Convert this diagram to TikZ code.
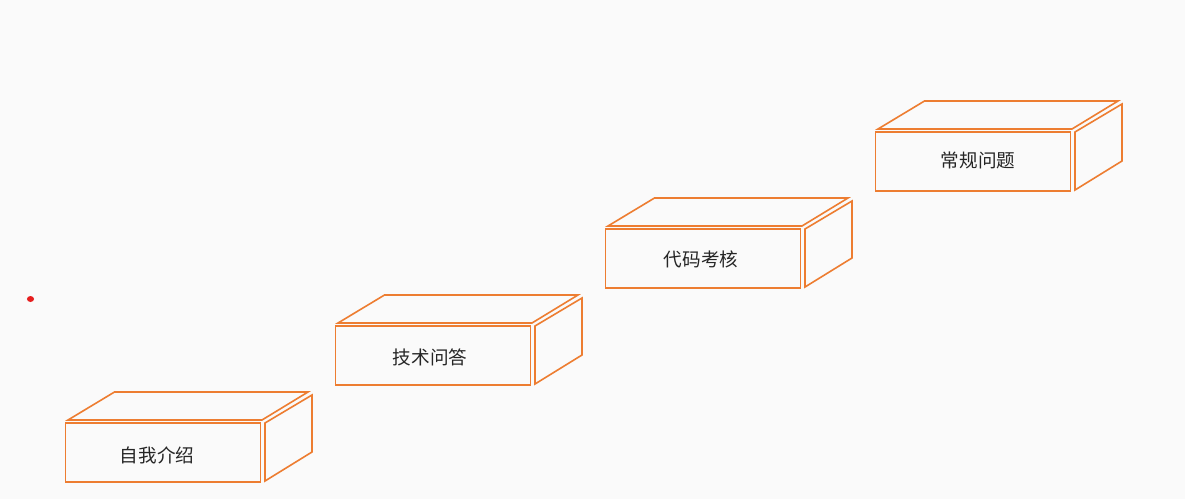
\documentclass[tikz,border=0pt]{standalone}
\usepackage{fontspec}
\newfontfamily\cjk{Noto Sans CJK SC}
\definecolor{boxorange}{RGB}{237,125,49}
\definecolor{bg}{RGB}{250,250,250}
\definecolor{dotred}{RGB}{230,30,30}
\tikzset{
  face/.style={draw=boxorange, line width=0.8pt, line join=miter},
  front/.style={face, rectangle, minimum width=97.5pt, minimum height=29.5pt, inner sep=0pt},
  lbl/.style={inner sep=0pt, font=\cjk\fontsize{9.3}{10}\selectfont, text=black!85}
}
\begin{document}
\begin{tikzpicture}[x=0.5pt,y=-0.5pt]
\useasboundingbox (0,0) rectangle (1185,499);
\fill[bg] (0,0) rectangle (1185,499);
\fill[dotred] (30.5,299) ellipse [x radius=3.6, y radius=3];
\foreach \i/\txt/\tx/\ty in {0/自我介绍/157/455,1/技术问答/430/357,2/代码考核/701/259,3/常规问题/978/160}{
  \node[lbl] (t\i) at (\tx,\ty) {\txt};
  \begin{scope}[shift={({270*\i},{-97*\i})}]
    \node[front] (f\i) at (163,452.5) {};
    \draw[face] (68,420) -- (114.5,392) -- (308,392) -- (262,420) -- cycle;
    \draw[face] (265,423) -- (312,395) -- (312,452) -- (265,481) -- cycle;
  \end{scope}
}
\end{tikzpicture}
\end{document}
